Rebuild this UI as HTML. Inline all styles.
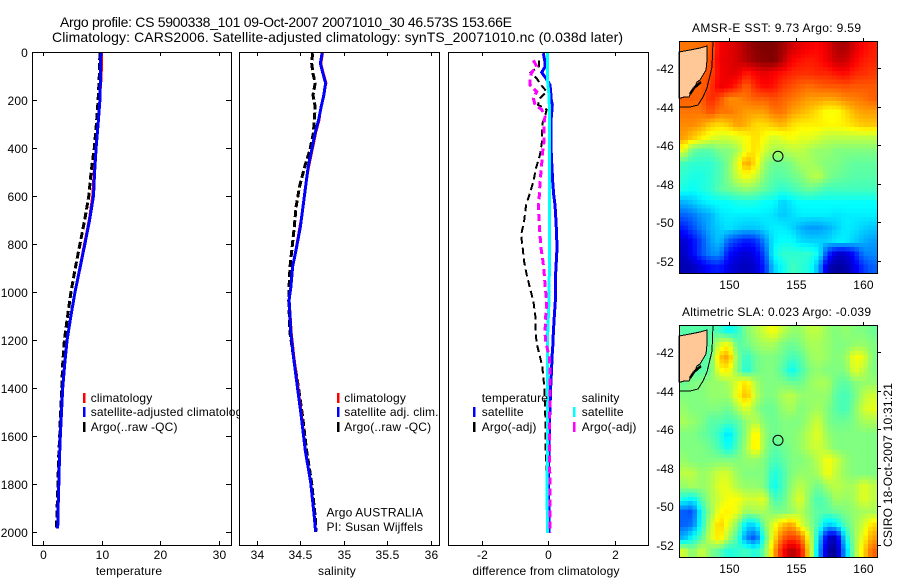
<!DOCTYPE html>
<html>
<head>
<meta charset="utf-8">
<title>Argo profile chart</title>
<style>
html,body{margin:0;padding:0;background:#fff;}
svg{display:block;}
text{font-family:"Liberation Sans",sans-serif;font-size:12px;fill:#000;letter-spacing:0.15px;}
.line{fill:none;shape-rendering:crispEdges;stroke-linejoin:miter;}
.crisp{shape-rendering:crispEdges;}
</style>
</head>
<body>
<svg id="chart" xmlns="http://www.w3.org/2000/svg" width="900" height="580" viewBox="0 0 900 580">
  <rect x="0" y="0" width="900" height="580" fill="#fff"/>
  <text x="60" y="27" style="font-size:14px;letter-spacing:0" textLength="452" lengthAdjust="spacing">Argo profile: CS 5900338_101 09-Oct-2007 20071010_30 46.573S 153.66E</text>
  <text x="52" y="42" style="font-size:14px;letter-spacing:0" textLength="571" lengthAdjust="spacing">Climatology: CARS2006. Satellite-adjusted climatology: synTS_20071010.nc (0.038d later)</text>

  <g id="panel-temp"></g>
  <g id="panel-sal"></g>
  <g id="panel-diff"></g>
  <g id="map-sst"></g>
  <g id="map-sla"></g>

  <text x="129" y="575" text-anchor="middle">temperature</text>
  <text x="337" y="575" text-anchor="middle">salinity</text>
  <text x="546" y="575" text-anchor="middle">difference from climatology</text>

  <text x="326.5" y="516.5">Argo AUSTRALIA</text>
  <text x="326.5" y="531">PI: Susan Wijffels</text>

  <text x="692" y="32" style="letter-spacing:0" textLength="169" lengthAdjust="spacing">AMSR-E SST: 9.73 Argo: 9.59</text>
  <text x="682" y="316" style="letter-spacing:0" textLength="189" lengthAdjust="spacing">Altimetric SLA: 0.023 Argo: -0.039</text>
  <text transform="translate(892,547) rotate(-90)" style="letter-spacing:0" textLength="164" lengthAdjust="spacing">CSIRO 18-Oct-2007 10:31:21</text>
</svg>

<script>
/* ---------- profile data ---------- */
const depthTicks = [0,200,400,600,800,1000,1200,1400,1600,1800,2000];
const tempTicks = [0,10,20,30];
const salTicks = [34,34.5,35,35.5,36];
const diffTicks = [-2,0,2];

const tempDepths = [5,100,200,300,400,500,600,700,800,900,1000,1100,1200,1300,1400,1500,1600,1700,1800,1900,1985];
const tempClim = [10.05,10,9.7,9.35,9.0,8.65,8.4,7.8,7.0,6.2,5.4,4.75,4.1,3.65,3.3,3.1,2.95,2.8,2.7,2.58,2.5];
const tempSat = [9.85,9.8,9.7,9.4,9.05,8.8,8.6,7.95,7.15,6.3,5.45,4.75,4.1,3.7,3.35,3.15,2.95,2.8,2.7,2.58,2.5];
const tempArgo = [9.7,9.6,9.4,9.1,8.75,8.2,7.8,7.1,6.3,5.5,4.77,4.2,3.65,3.35,3.18,3.0,2.85,2.65,2.55,2.4,2.3];

const salDepths = [5,48,90,130,180,228,283,338,408,478,561,645,728,811,895,978,1033,1171,1270,1380,1519,1658,1797,1936,1999];
const salClim = [34.76,34.74,34.77,34.8,34.77,34.74,34.72,34.68,34.64,34.6,34.56,34.53,34.49,34.45,34.41,34.39,34.375,34.4,34.43,34.47,34.52,34.56,34.62,34.665,34.68];
const salSat = [34.75,34.73,34.76,34.79,34.77,34.74,34.71,34.67,34.63,34.59,34.56,34.53,34.5,34.457,34.41,34.39,34.37,34.39,34.42,34.46,34.51,34.555,34.62,34.66,34.675];
const salArgo = [34.64,34.63,34.645,34.67,34.645,34.67,34.66,34.65,34.61,34.55,34.49,34.45,34.43,34.405,34.38,34.37,34.365,34.38,34.42,34.47,34.525,34.57,34.63,34.67,34.68];

const diffDepths = [5,35,60,85,110,137,165,192,220,240,268,300,373,428,484,540,595,637,706,762,817,873,928,984,1039,1102,1172,1214,1270,1311,1395,1519,1630,1727,1850,2005];
const diffTempSat = [-.14,-.1,-.08,-.19,-.06,.06,.08,.09,.13,.12,.1,.09,.09,.1,.12,.14,.17,.21,.24,.26,.27,.25,.23,.22,.22,.19,.16,.15,.12,.11,.08,.05,.03,.02,.02,.03];
const diffSalSat = [-.01,-.01,-.01,-.01,-.02,0,.02,.03,.04,.04,.04,.04,.04,.04,.04,.04,.04,.04,.04,.04,.04,.04,.04,.03,.03,.01,-.01,-.01,-.02,-.02,-.01,-.01,-.02,-.02,-.03,-.01];
const diffTempArgo = [null,-.27,-.27,-.52,-.34,-.21,-.04,-.24,-.3,-.04,-.09,-.17,-.18,-.24,-.36,-.44,-.56,-.66,-.72,-.81,-.76,-.72,-.64,-.54,-.44,-.38,-.37,-.34,-.24,-.17,-.11,-.08,-.08,-.05,-.02,0];
const diffSalArgo = [null,-.44,-.34,-.49,-.54,-.54,-.34,-.44,-.39,-.19,-.09,-.12,-.12,-.17,-.2,-.24,-.26,-.29,-.27,-.24,-.21,-.15,-.11,-.08,-.04,-.07,-.09,-.06,.04,.06,.06,.05,.05,.05,.06,.06];

/* ---------- map data (percent of colour range, rows north to south) ---------- */
const lonTicks = [150,155,160];
const latTicks = [-42,-44,-46,-48,-50,-52];
const sstLevels = [
[76,76,77,78,88,90,92,96,99,100,100,97,92,90,88,87,90,95,96,91,87,85],
[76,76,77,80,89,90,92,95,98,99,100,95,88,86,85,86,89,93,93,88,85,84],
[78,78,78,80,88,90,90,85,88,90,88,86,84,83,83,84,84,86,87,84,83,82],
[78,78,78,82,89,88,84,78,84,87,86,82,80,78,77,78,79,79,80,79,79,79],
[78,78,78,84,80,74,74,76,78,78,80,78,76,74,72,72,71,72,74,75,76,78],
[76,76,76,80,76,76,74,72,72,72,76,76,72,70,68,65,62,62,66,70,72,72],
[74,74,72,68,66,68,72,70,66,66,68,70,66,64,64,64,63,63,64,66,68,68],
[72,68,64,60,58,58,60,62,66,62,58,60,62,60,60,58,56,56,56,56,56,56],
[60,48,46,46,50,50,54,62,66,58,54,54,56,56,54,52,52,50,50,50,50,50],
[44,42,42,42,45,50,60,72,65,52,48,48,50,54,54,52,50,50,48,47,47,47],
[42,40,40,42,45,50,58,62,58,50,46,46,48,50,54,56,50,48,47,46,46,46],
[40,38,40,42,46,48,50,52,50,47,44,42,44,46,48,46,44,44,44,44,44,44],
[30,32,35,37,38,38,40,40,40,38,38,33,36,38,38,38,38,38,38,38,38,38],
[22,24,28,30,35,36,36,36,36,36,35,32,34,36,36,36,36,35,36,36,36,36],
[15,20,25,30,33,35,33,32,32,34,36,36,34,30,28,28,30,33,36,35,33,32],
[8,13,20,28,32,22,18,15,17,26,36,38,38,34,33,33,33,36,36,33,30,28],
[6,12,20,26,27,14,10,8,11,20,38,42,42,42,42,38,18,8,8,15,25,26],
[5,6,10,14,15,10,7,6,8,16,33,38,44,42,40,30,6,3,4,10,18,22]
];
const slaLevels = [
[46,46,46,46,44,38,42,50,54,58,62,56,52,52,56,56,52,50,52,50,50,48],
[46,46,46,46,58,62,46,48,52,54,54,50,48,50,54,54,52,50,50,52,52,50],
[46,46,46,46,68,72,50,42,48,50,50,48,44,46,52,54,52,50,52,62,60,50],
[46,46,46,48,62,64,50,40,48,50,50,46,38,44,50,52,50,50,50,60,56,50],
[48,50,50,52,52,54,60,66,54,50,50,50,48,48,52,54,54,48,46,50,52,52],
[50,50,50,52,52,52,62,70,56,50,50,54,56,52,52,52,52,46,44,48,56,58],
[52,50,50,50,50,48,54,60,52,48,48,52,54,50,52,54,50,46,44,50,58,60],
[54,52,50,46,46,44,46,52,56,50,48,50,50,50,54,58,50,48,48,50,54,54],
[50,50,48,46,42,34,44,52,66,52,48,50,50,52,56,60,52,50,50,50,50,50],
[50,50,50,48,44,38,46,54,66,52,46,48,50,52,56,58,54,50,50,50,50,50],
[52,50,50,50,50,50,50,52,52,50,44,46,50,50,52,56,62,58,52,50,50,50],
[56,56,52,54,58,58,52,50,50,50,40,44,50,52,52,54,62,56,52,50,50,50],
[52,54,52,54,60,60,54,52,52,50,38,44,52,56,52,48,54,56,54,54,60,56],
[40,36,46,54,58,62,62,58,58,60,44,46,54,60,50,44,48,54,52,54,60,56],
[22,20,40,52,62,64,60,52,54,54,50,50,52,56,50,46,46,48,50,52,54,54],
[22,24,40,56,68,60,50,34,34,50,60,68,72,60,52,44,32,36,46,52,58,66],
[30,38,46,58,66,54,44,26,20,44,64,78,82,78,60,36,8,6,38,52,62,72],
[58,50,58,50,46,40,42,44,40,48,70,86,96,88,64,30,4,2,30,52,66,78]
];
const floatLon = 153.66;
const floatLat = -46.573;

/* ---------- helpers ---------- */
const NS = 'http://www.w3.org/2000/svg';
function make(tag, parent, attrs, txt) {
  const n = document.createElementNS(NS, tag);
  for (const k in attrs) n.setAttribute(k, attrs[k]);
  if (txt !== undefined) n.textContent = txt;
  parent.appendChild(n);
  return n;
}
const plotTop = 52, plotBottom = 545;
function yDepth(d) { return 52 + d * 0.24; }
function linScale(v0, x0, v1, x1) { return v => x0 + (v - v0) * (x1 - x0) / (v1 - v0); }

function drawProfile(parent, scale, depths, values, color, width, dash, name) {
  const pts = [];
  depths.forEach((d, i) => {
    if (values[i] !== null) pts.push(scale(values[i]).toFixed(1) + ',' + yDepth(d).toFixed(1));
  });
  const el = make('polyline', parent, {class:'line', points:pts.join(' '), stroke:color, 'stroke-width':width});
  if (dash) el.setAttribute('stroke-dasharray', dash);
  
  
}

function drawAxes(parent, L, R, scale, ticks, showDepth, prefix) {
  const bg = make('rect', parent, {class:'crisp', x:L, y:plotTop, width:R-L, height:plotBottom-plotTop, fill:'#fff'});
  
  
  ticks.forEach(t => {
    const x = Math.round(scale(t)) + 0.5;
    const tickPath = make('path', parent, {class:'crisp', d:`M${x} ${plotTop}v4M${x} ${plotBottom}v-4`, stroke:'#000', fill:'none'});
    
    
    const lab = make('text', parent, {x:x, y:559, 'text-anchor':'middle'}, String(t));
    
    
  });
  if (showDepth) {
    depthTicks.forEach(d => {
      const y = Math.round(yDepth(d)) + 0.5;
      const tickPath = make('path', parent, {class:'crisp', d:`M${L} ${y}h5M${R} ${y}h-5`, stroke:'#000', fill:'none'});
      
      
      const lab = make('text', parent, {x:28, y:y+4.5, 'text-anchor':'end'}, String(d));
      
      
    });
  }
}
function drawFrame(parent, L, R, prefix) {
  const fr = make('rect', parent, {class:'crisp', x:L+0.5, y:plotTop+0.5, width:R-L, height:plotBottom-plotTop, fill:'none', stroke:'#000'});
  
  
}
function legendEntry(parent, xSample, xText, y, color, label, name) {
  if (color) {
    const s = make('rect', parent, {class:'crisp', x:xSample, y:y-9, width:2.5, height:10, fill:color});
    
    
  }
  const t = make('text', parent, {x:xText, y:y}, label);
  
  
}

/* ---------- temperature panel ---------- */
const pT = document.getElementById('panel-temp');
const xT = linScale(0, 43, 30, 219);
drawAxes(pT, 32, 231, xT, tempTicks, true, 'temperature');
drawProfile(pT, xT, tempDepths, tempArgo, '#000', 3, '7 3', 'temperature-argo-line');
drawProfile(pT, xT, tempDepths, tempClim, '#f00', 2, null, 'temperature-climatology-line');
drawProfile(pT, xT, tempDepths, tempSat, '#00f', 3, null, 'temperature-satellite-line');
legendEntry(pT, 83, 90.7, 402, '#f00', 'climatology', 'temperature-legend-climatology');
legendEntry(pT, 83, 90.7, 416, '#00f', 'satellite-adjusted climatology', 'temperature-legend-satellite');
legendEntry(pT, 83, 90.7, 431, '#000', 'Argo(..raw -QC)', 'temperature-legend-argo');
drawFrame(pT, 32, 231, 'temperature');

/* ---------- salinity panel ---------- */
const pS = document.getElementById('panel-sal');
const xS = linScale(34, 257, 36, 430.6);
drawAxes(pS, 239, 439, xS, salTicks, false, 'salinity');
drawProfile(pS, xS, salDepths, salArgo, '#000', 3, '7 3', 'salinity-argo-line');
drawProfile(pS, xS, salDepths, salClim, '#f00', 2, null, 'salinity-climatology-line');
drawProfile(pS, xS, salDepths, salSat, '#00f', 3, null, 'salinity-satellite-line');
legendEntry(pS, 337, 344.3, 402, '#f00', 'climatology', 'salinity-legend-climatology');
legendEntry(pS, 337, 344.3, 416, '#00f', 'satellite adj. clim.', 'salinity-legend-satellite');
legendEntry(pS, 337, 344.3, 431, '#000', 'Argo(..raw -QC)', 'salinity-legend-argo');
drawFrame(pS, 239, 439, 'salinity');

/* ---------- difference panel ---------- */
const pD = document.getElementById('panel-diff');
const xD = linScale(-2, 481.5, 2, 614.5);
drawAxes(pD, 448, 648, xD, diffTicks, false, 'difference');
drawProfile(pD, xD, diffDepths, diffTempArgo, '#000', 2, '7 4', 'difference-temperature-argo-line');
drawProfile(pD, xD, diffDepths, diffTempSat, '#00f', 3, null, 'difference-temperature-satellite-line');
drawProfile(pD, xD, diffDepths, diffSalSat, '#0ff', 3, null, 'difference-salinity-satellite-line');
drawProfile(pD, xD, diffDepths, diffSalArgo, '#f0f', 3, '7 4', 'difference-salinity-argo-line');
legendEntry(pD, 473, 481.7, 402, null, 'temperature', 'difference-legend-temperature-heading');
legendEntry(pD, 473, 481.7, 416, '#00f', 'satellite', 'difference-legend-temperature-satellite');
legendEntry(pD, 473, 481.7, 431, '#000', 'Argo(-adj)', 'difference-legend-temperature-argo');
legendEntry(pD, 573, 581.7, 402, null, 'salinity', 'difference-legend-salinity-heading');
legendEntry(pD, 573, 581.7, 416, '#0ff', 'satellite', 'difference-legend-salinity-satellite');
legendEntry(pD, 573, 581.7, 431, '#f0f', 'Argo(-adj)', 'difference-legend-salinity-argo');
drawFrame(pD, 448, 648, 'difference');

/* ---------- maps ---------- */
function jet(t) {
  t = Math.max(0, Math.min(1, t));
  const c = v => Math.round(255 * Math.max(0, Math.min(1, v)));
  return `rgb(${c(1.5 - Math.abs(4*t - 3))},${c(1.5 - Math.abs(4*t - 2))},${c(1.5 - Math.abs(4*t - 1))})`;
}
function sampleGrid(g, r, c) {
  const rows = g.length, cols = g[0].length;
  const r0 = Math.max(0, Math.min(rows-1, Math.floor(r))), r1 = Math.min(rows-1, r0+1);
  const c0 = Math.max(0, Math.min(cols-1, Math.floor(c))), c1 = Math.min(cols-1, c0+1);
  const fr = Math.max(0, Math.min(1, r - r0)), fc = Math.max(0, Math.min(1, c - c0));
  return (g[r0][c0]*(1-fc)+g[r0][c1]*fc)*(1-fr) + (g[r1][c0]*(1-fc)+g[r1][c1]*fc)*fr;
}
function drawMap(parent, levels, top, prefix) {
  const L = 679, R = 877, H = 232, bottom = top + H, W = R - L;
  const xLon = linScale(150, 729, 160, 863);
  const yLat = linScale(-42, top + 27, -52, top + 220);
  const rows = levels.length, cols = levels[0].length;
  const subX = 2, subY = 3;
  const cw = W / (cols * subX), ch = H / (rows * subY);
  for (let i = 0; i < rows * subY; i++) {
    for (let j = 0; j < cols * subX; j++) {
      const v = sampleGrid(levels, (i + 0.5) / subY - 0.5, (j + 0.5) / subX - 0.5);
      const cell = make('rect', parent, {class:'crisp', x:(L + j*cw).toFixed(2), y:(top + i*ch).toFixed(2), width:(cw+0.5).toFixed(2), height:(ch+0.5).toFixed(2), fill:jet(v/100)});
      
      
    }
  }
  const dy = top - 41;
  const land = make('polygon', parent, {
    points:[[679,52],[690,50],[700,48],[707,46],[707,60],[706,70],[703,75],[700,80],[697,82],[695,87],[692,90],[689,97],[684,97],[681,98],[679,98]].map(p => p[0]+','+(p[1]+dy)).join(' '),
    fill:'#ffc896', stroke:'#000', 'stroke-width':1, class:'crisp'
  });
  
  
  const inlet = make('path', parent, {d:`M694 ${88+dy}L701 ${82+dy}M690 ${94+dy}L694 ${88+dy}`, stroke:'#000', 'stroke-width':2.5, fill:'none', class:'crisp'});
  
  
  const contour = make('path', parent, {d:`M713 ${41+dy}L712 ${67+dy}L707 ${88+dy}L703 ${97+dy}L698 ${105+dy}L690 ${107+dy}L679 ${107+dy}`, stroke:'#000', fill:'none', class:'crisp'});
  
  
  const marker = make('circle', parent, {cx:xLon(floatLon).toFixed(1), cy:yLat(floatLat).toFixed(1), r:5, fill:'none', stroke:'#000'});
  
  
  const fr = make('rect', parent, {class:'crisp', x:L+0.5, y:top+0.5, width:W, height:H, fill:'none', stroke:'#000'});
  
  
  lonTicks.forEach(t => {
    const x = Math.round(xLon(t)) + 0.5;
    const tk = make('path', parent, {class:'crisp', d:`M${x} ${top}v-3`, stroke:'#000'});
    
    
    const lab = make('text', parent, {x:x, y:bottom+16, 'text-anchor':'middle'}, String(t));
    
    
  });
  latTicks.forEach(t => {
    const y = Math.round(yLat(t)) + 0.5;
    const tk = make('path', parent, {class:'crisp', d:`M${R} ${y}h4`, stroke:'#000'});
    
    
    const lab = make('text', parent, {x:674, y:y+4.5, 'text-anchor':'end'}, String(t));
    
    
  });
}
drawMap(document.getElementById('map-sst'), sstLevels, 41, 'sst');
drawMap(document.getElementById('map-sla'), slaLevels, 325, 'sla');
</script>
</body>
</html>
